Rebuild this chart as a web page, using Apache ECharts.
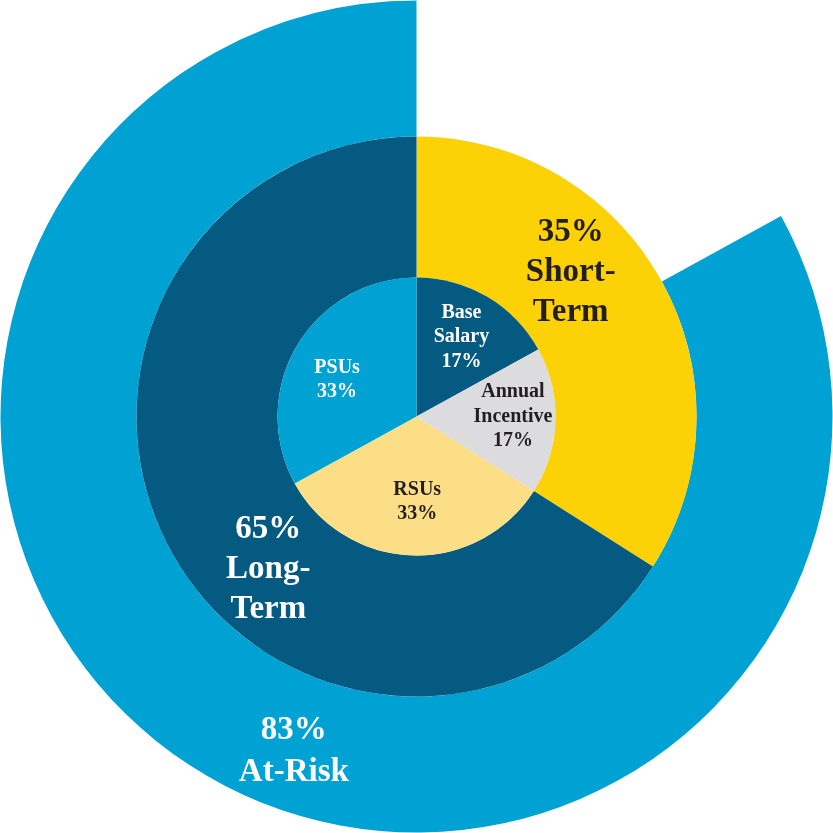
<!DOCTYPE html>
<html>
<head>
<meta charset="utf-8">
<script src="https://cdn.jsdelivr.net/npm/echarts@6/dist/echarts.min.js"></script>
<style>
html,body{margin:0;padding:0;background:#fff;}
#chart{width:833px;height:833px;}
</style>
</head>
<body>
<div id="chart"></div>
<script>
// Inner pie: pay elements
const innerNames = ['Base Salary', 'Annual Incentive', 'RSUs', 'PSUs'];
const innerValues = [17, 17, 33, 33];
const innerLabels = ['Base\nSalary\n17%', 'Annual\nIncentive\n17%', 'RSUs\n33%', 'PSUs\n33%'];

// Middle ring: term split
const termNames = ['Short-Term', 'Long-Term'];
const termValues = [34, 66];
const termLabels = ['35%\nShort-\nTerm', '65%\nLong-\nTerm'];

// Outer ring: at-risk share (remainder left blank)
const riskNames = ['Fixed', 'At-Risk'];
const riskValues = [17, 83];
const riskLabels = ['', '83%\nAt-Risk'];

const innerColors = ['#045a80', '#dcdcde', '#fbde86', '#00a2d3'];
const innerTextColors = ['#ffffff', '#231f20', '#231f20', '#ffffff'];
const innerOffsets = [[8, -17], [24, -2], [3, 13], [-17, 0]];

const termColors = ['#fcd106', '#045a80'];
const termTextColors = ['#231f20', '#ffffff'];
const termOffsets = [[-32, -42], [38, 51]];

const riskColors = ['rgba(0,0,0,0)', '#00a2d3'];
const riskOffsets = [[0, 0], [56, 33]];

const serif = 'Liberation Serif';

function build(names, values, labels, colors, textColors, offsets) {
  return names.map((n, i) => ({
    name: n,
    value: values[i],
    itemStyle: { color: colors[i] },
    label: {
      show: labels[i] !== '',
      color: textColors[i],
      offset: offsets[i]
    }
  }));
}

function series(radius, data, labels, fontSize, lineHeight) {
  return {
    type: 'pie',
    center: ['50%', '50%'],
    radius: radius,
    startAngle: 90,
    clockwise: true,
    avoidLabelOverlap: false,
    silent: true,
    labelLine: { show: false },
    label: {
      position: 'inside',
      align: 'center',
      formatter: p => labels[p.dataIndex],
      fontSize: fontSize,
      lineHeight: lineHeight,
      fontWeight: 'bold',
      fontFamily: serif
    },
    emphasis: { disabled: true },
    itemStyle: { borderWidth: 0 },
    data: data
  };
}

const chart = echarts.init(document.getElementById('chart'), null, { renderer: 'canvas' });
chart.setOption({
  animation: false,
  series: [
    series([280, 416], build(riskNames, riskValues, riskLabels, riskColors, ['#fff', '#fff'], riskOffsets), riskLabels, 33, 42),
    series([139, 280], build(termNames, termValues, termLabels, termColors, termTextColors, termOffsets), termLabels, 33, 40),
    series([0, 139], build(innerNames, innerValues, innerLabels, innerColors, innerTextColors, innerOffsets), innerLabels, 20, 24.5)
  ]
});
</script>
</body>
</html>
